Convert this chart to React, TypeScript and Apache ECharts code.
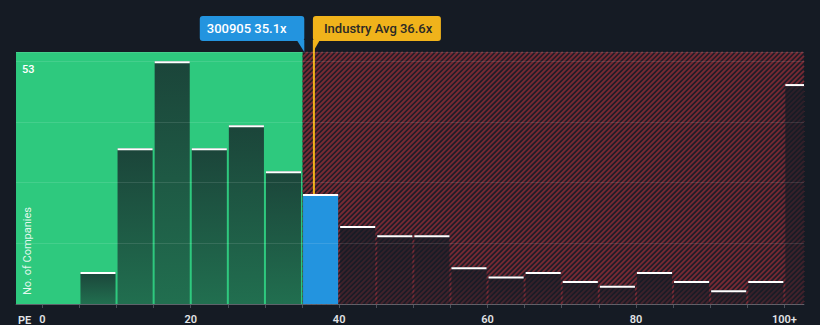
import React, { useEffect, useRef } from 'react';
import * as echarts from 'echarts';

// ---- data ----
const binStarts = [5, 10, 15, 20, 25, 30, 35, 40, 45, 50, 55, 60, 65, 70, 75, 80, 85, 90, 95, 100];
const counts = [7, 34, 53, 34, 39, 29, 24, 17, 15, 15, 8, 6, 7, 5, 4, 7, 5, 3, 5, 48];
const BIN_WIDTH = 5;
const companyPE = 35.1;
const industryPE = 36.6;
const companyLabel = '300905 35.1x';
const industryLabel = 'Industry Avg 36.6x';
const xTickValues = [0, 5, 10, 15, 20, 25, 30, 35, 40, 45, 50, 55, 60, 65, 70, 75, 80, 85, 90, 95, 100];
const xLabelValues = [0, 20, 40, 60, 80, 100];
const yTopLabel = 53;

const FONT = 'Roboto, "Noto Sans", sans-serif';
const GREEN = '#2ec97e';
const BLUE = '#2394df';
const ORANGE = '#f0b31b';

export default function App() {
  const ref = useRef<HTMLDivElement>(null);

  useEffect(() => {
    const chart = echarts.init(ref.current!, null, { renderer: 'svg' });

    const barFill = () =>
      new echarts.graphic.LinearGradient(0, 0, 0, 1, [
        { offset: 0, color: 'rgba(21,27,36,0.76)' },
        { offset: 1, color: 'rgba(21,27,36,0.52)' },
      ]);

    chart.setOption({
      animation: false,
      backgroundColor: '#151b24',
      textStyle: { fontFamily: FONT },
      grid: { left: 16, right: 16, top: 52, bottom: 21 },
      xAxis: {
        type: 'value',
        min: -3.55,
        max: 102.65,
        splitLine: { show: false },
        axisLine: { show: true, onZero: false, lineStyle: { color: '#4b5059', width: 1 } },
        axisTick: { show: true, customValues: xTickValues, length: 4, lineStyle: { color: '#4b5059' } },
        axisLabel: {
          customValues: xLabelValues,
          formatter: (v: number) => (v === 100 ? '100+' : String(v)),
          color: '#e2e4e7',
          fontSize: 11,
          fontWeight: 600,
          fontFamily: FONT,
          margin: 10,
        },
      },
      yAxis: {
        type: 'value',
        min: 0,
        max: 55,
        interval: 13.25,
        z: 5,
        axisLine: { show: false },
        axisTick: { show: false },
        splitLine: { show: true, lineStyle: { color: 'rgba(255,255,255,0.11)', width: 1 } },
        axisLabel: {
          inside: true,
          formatter: (v: number) => (Math.abs(v - yTopLabel) < 0.01 ? String(yTopLabel) : ''),
          color: '#ffffff',
          fontSize: 11,
          fontWeight: 500,
          fontFamily: FONT,
          verticalAlign: 'top',
          margin: 6,
          padding: [3, 0, 0, 0],
        },
      },
      series: [
        {
          type: 'custom',
          name: 'background',
          z: 1,
          silent: true,
          data: [[0, 0]],
          renderItem: (params: any, api: any) => {
            const cs = params.coordSys;
            const x0 = cs.x;
            const y0 = cs.y;
            const x1 = cs.x + cs.width;
            const y1 = cs.y + cs.height;
            const xm = api.coord([companyPE, 0])[0];
            const xo = api.coord([industryPE, 0])[0];
            const children: any[] = [
              { type: 'rect', shape: { x: x0, y: y0, width: xm - x0, height: y1 - y0 }, style: { fill: GREEN } },
              { type: 'rect', shape: { x: xm, y: y0, width: x1 - xm, height: y1 - y0 }, style: { fill: '#1f1d27' } },
            ];
            const step = 5;
            for (let c = xm + y0; c <= x1 + y1; c += step) {
              const xa = Math.max(xm, c - y1);
              const xb = Math.min(x1, c - y0);
              if (xb > xa) {
                children.push({
                  type: 'line',
                  shape: { x1: xa, y1: c - xa, x2: xb, y2: c - xb },
                  style: { stroke: '#772a34', lineWidth: 1.8 },
                });
              }
            }
            children.push({
              type: 'line',
              shape: { x1: xo, y1: y0, x2: xo, y2: y1 },
              style: { stroke: ORANGE, lineWidth: 2 },
            });
            return { type: 'group', children };
          },
        },
        {
          type: 'custom',
          name: 'companies',
          z: 2,
          data: binStarts.map((s, i) => [s, counts[i]]),
          encode: { x: 0, y: 1 },
          renderItem: (params: any, api: any) => {
            const cs = params.coordSys;
            const start = api.value(0);
            const val = api.value(1);
            const left = api.coord([start, 0])[0] + 1;
            const right = Math.min(api.coord([start + BIN_WIDTH, 0])[0] - 1, cs.x + cs.width);
            const top = api.coord([start, val])[1];
            const bottom = api.coord([start, 0])[1];
            const isCompany = companyPE >= start && companyPE < start + BIN_WIDTH;
            return {
              type: 'group',
              children: [
                {
                  type: 'rect',
                  shape: { x: left, y: top, width: right - left, height: bottom - top },
                  style: { fill: isCompany ? BLUE : barFill() },
                },
                {
                  type: 'rect',
                  shape: { x: left, y: top, width: right - left, height: 2 },
                  style: { fill: '#ffffff' },
                },
              ],
            };
          },
        },
      ],
    });

    const mx = chart.convertToPixel({ xAxisIndex: 0 }, companyPE) as number;
    const ox = chart.convertToPixel({ xAxisIndex: 0 }, industryPE) as number;
    const gridTop = 52;

    chart.setOption({
      graphic: [
        {
          type: 'rect',
          z: 100,
          shape: { x: mx - 103, y: 16, width: 104.5, height: 25, r: 3 },
          style: { fill: BLUE },
        },
        {
          type: 'polygon',
          z: 100,
          shape: { points: [[mx - 6, 40], [mx + 1.5, 40], [mx + 1.5, gridTop]] },
          style: { fill: BLUE },
        },
        {
          type: 'text',
          z: 101,
          x: mx - 96,
          y: 28.5,
          style: {
            text: companyLabel,
            fill: '#ffffff',
            font: `500 13px ${FONT}`,
            verticalAlign: 'middle',
            align: 'left',
          },
        },
        {
          type: 'rect',
          z: 100,
          shape: { x: ox - 1, y: 16, width: 128, height: 25, r: 3 },
          style: { fill: ORANGE },
        },
        {
          type: 'polygon',
          z: 100,
          shape: { points: [[ox - 1, 40], [ox + 6, 40], [ox - 1, gridTop]] },
          style: { fill: ORANGE },
        },
        {
          type: 'line',
          z: 100,
          shape: { x1: ox, y1: 40, x2: ox, y2: gridTop },
          style: { stroke: ORANGE, lineWidth: 2 },
        },
        {
          type: 'text',
          z: 101,
          x: ox + 10,
          y: 28.5,
          style: {
            text: industryLabel,
            fill: '#2b2a26',
            font: `500 13px ${FONT}`,
            verticalAlign: 'middle',
            align: 'left',
          },
        },
        {
          type: 'text',
          z: 101,
          x: 18,
          y: 320,
          style: {
            text: 'PE',
            fill: '#e2e4e7',
            font: `600 11px ${FONT}`,
            verticalAlign: 'middle',
            align: 'left',
          },
        },
        {
          type: 'text',
          z: 101,
          x: 27,
          y: 251,
          rotation: Math.PI / 2,
          style: {
            text: 'No. of Companies',
            fill: 'rgba(255,255,255,0.88)',
            font: `400 11px ${FONT}`,
            verticalAlign: 'middle',
            align: 'center',
          },
        },
      ],
    });

    return () => chart.dispose();
  }, []);

  return <div ref={ref} style={{ position: 'absolute', left: 0, top: 0, width: 820, height: 325 }} />;
}
